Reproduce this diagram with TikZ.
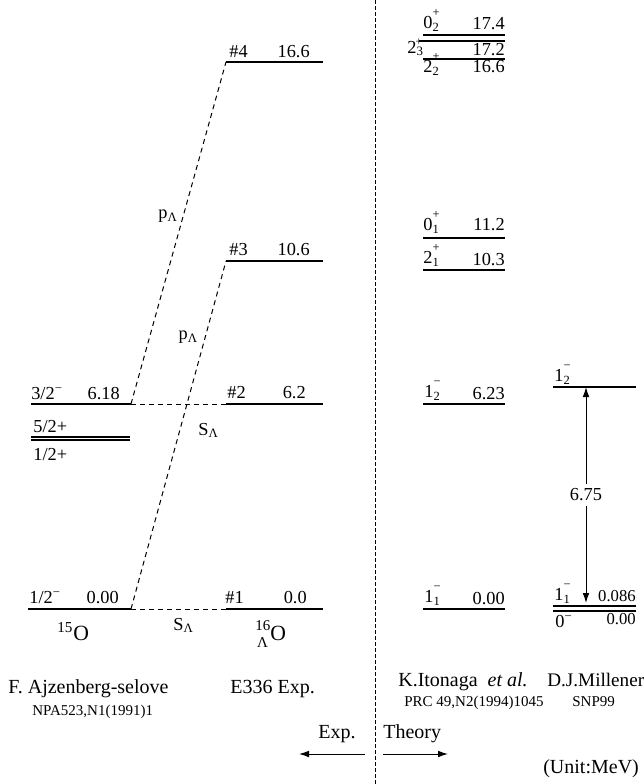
\documentclass[tikz,border=0pt]{standalone}
\usepackage{fontspec}
\setmainfont{Liberation Serif}
\usetikzlibrary{arrows.meta}
\newcommand{\jpi}[3]{#1\rlap{\raisebox{0.62em}{\fontsize{7.5}{8}\selectfont #2}}\raisebox{-0.18em}{\fontsize{7.5}{8}\selectfont #3}}
\begin{document}
\begin{tikzpicture}[
        x=0.6pt, y=-0.6pt,
        lvl/.style={line width=0.8pt},
        trans/.style={dash pattern=on 3pt off 2.4pt, line width=0.6pt},
        sep/.style={dash pattern=on 2.4pt off 1.2pt, line width=0.5pt},
        tip/.style={-{Latex[length=6pt,width=4pt]}, line width=0.6pt},
        every node/.style={inner sep=0pt, font=\fontsize{11}{13}\selectfont},
        bw/.style={anchor=base west},
        be/.style={anchor=base east},
        small/.style={font=\fontsize{9}{11}\selectfont},
        mid/.style={font=\fontsize{10}{12}\selectfont},
        title/.style={font=\fontsize{12}{14}\selectfont},
        nucl/.style={font=\fontsize{13}{15}\selectfont},
    ]
    \useasboundingbox (0,0) rectangle (644,784);
    \draw[sep] (375,0) coordinate (sepT) -- (375,784) coordinate (sepB);

    \draw[lvl] (31,404) -- (131,404) coordinate (o15b);
    \draw[lvl] (31,437) -- (130,437);
    \draw[lvl] (31,440) -- (130,440);
    \draw[lvl] (28,609) -- (131,609) coordinate (o15a);
    \node[bw] (o15bj) at (31,399) {3/2\textsuperscript{−}};
    \node[be] (o15be) at (120,399) {6.18};
    \node[bw] (o15cj) at (33,432) {5/2+};
    \node[bw] (o15dj) at (33,460) {1/2+};
    \node[bw] (o15aj) at (29,603) {1/2\textsuperscript{−}};
    \node[be] (o15ae) at (119,603) {0.00};
    \node[bw, nucl] (o15) at (57,640) {\textsuperscript{15}O};

    \draw[lvl] (226,62) coordinate (e4) -- (323,62);
    \draw[lvl] (226,261) coordinate (e3) -- (323,261);
    \draw[lvl] (226,404) coordinate (e2) -- (323,404);
    \draw[lvl] (226,609) coordinate (e1) -- (323,609);
    \node[bw] (e4n) at (229,57) {\#4};
    \node[be] (e4e) at (310,57) {16.6};
    \node[bw] (e3n) at (229,255) {\#3};
    \node[be] (e3e) at (310,255) {10.6};
    \node[bw] (e2n) at (227,398) {\#2};
    \node[be] (e2e) at (306,398) {6.2};
    \node[bw] (e1n) at (225,603) {\#1};
    \node[be] (e1e) at (307,603) {0.0};
    \node[bw, nucl] (o16) at (255,640) {\rlap{\hspace{1pt}\raisebox{-0.35em}{\fontsize{9}{10}\selectfont Λ}}\raisebox{0.45em}{\fontsize{9}{10}\selectfont 16}O};

    \draw[trans] (o15b) -- (e4) node[pos=0.55, left=3pt] (p1) {p\textsubscript{Λ}};
    \draw[trans] (o15a) -- (e3) node[pos=0.78, left=4pt] (p2) {p\textsubscript{Λ}};
    \draw[trans] (o15b) -- (e2);
    \draw[trans] (o15a) -- (e1);
    \node[bw] (s2) at (198,435) {S\textsubscript{Λ}};
    \node[bw] (s1) at (173,630) {S\textsubscript{Λ}};

    \draw[lvl] (423,35) -- (505,35);
    \draw[lvl] (419,41) -- (505,41);
    \draw[lvl] (423,59) -- (505,59);
    \draw[lvl] (423,238) -- (505,238);
    \draw[lvl] (423,270) -- (505,270);
    \draw[lvl] (423,404) -- (505,404);
    \draw[lvl] (423,609) -- (505,609);
    \node[bw] (t02) at (423,28) {\jpi{0}{+}{2}};
    \node[be] (t02e) at (505,29) {17.4};
    \node[bw] (t23) at (407,53) {2\textsubscript{3}};
    \node[font=\fontsize{7}{8}\selectfont] (t23p) at (419,42) {+};
    \node[be] (t23e) at (505,55) {17.2};
    \node[bw] (t22) at (423,72) {\jpi{2}{+}{2}};
    \node[be] (t22e) at (505,72) {16.6};
    \node[bw] (t01) at (423,230) {\jpi{0}{+}{1}};
    \node[be] (t01e) at (505,230) {11.2};
    \node[bw] (t21) at (423,263) {\jpi{2}{+}{1}};
    \node[be] (t21e) at (505,265) {10.3};
    \node[bw] (t12) at (424,397) {\jpi{1}{−}{2}};
    \node[be] (t12e) at (505,399) {6.23};
    \node[bw] (t11) at (424,602) {\jpi{1}{−}{1}};
    \node[be] (t11e) at (505,604) {0.00};

    \draw[lvl] (553,387) -- (636,387);
    \draw[lvl] (553,606) -- (636,606);
    \draw[lvl] (553,611) -- (636,611);
    \node[bw] (m12) at (554,381) {\jpi{1}{−}{2}};
    \node[bw] (m11) at (554,600) {\jpi{1}{−}{1}};
    \node[be, mid] (m11e) at (636,601) {0.086};
    \node[bw] (m0) at (555,627) {0\textsuperscript{−}};
    \node[be, mid] (m0e) at (636,624) {0.00};
    \coordinate (mTop) at (586,387);
    \coordinate (mBot) at (586,603);
    \draw[{Latex[length=6pt,width=4pt]}-{Latex[length=6pt,width=4pt]}, line width=0.6pt] (mBot) -- (mTop)
        node[midway, fill=white, inner sep=3pt] (gap) {6.75};

    \node[bw, title] (ajz) at (8,693) {F. Ajzenberg-selove};
    \node[bw, small] (ajzr) at (32,715) {NPA523,N1(1991)1};
    \node[bw, title] (e336) at (230,693) {E336 Exp.};
    \node[bw, title] (ito) at (398,686) {K.Itonaga~ \textit{et al.}};
    \node[bw, small] (itor) at (404,706) {PRC 49,N2(1994)1045};
    \node[bw, font=\fontsize{11.5}{13}\selectfont] (mil) at (547,686) {D.J.Millener};
    \node[bw, small] (milr) at (572,706) {SNP99};

    \node[bw, title] (exp) at (318,738) {Exp.};
    \node[bw, title] (th) at (383,738) {Theory};
    \draw[tip] (365,754) coordinate (expA) -- (299,754) coordinate (expB);
    \draw[tip] (383,754) coordinate (thA) -- (448,754) coordinate (thB);
    \node[bw, title] (unit) at (543,773) {(Unit:MeV)};
\end{tikzpicture}
\end{document}
